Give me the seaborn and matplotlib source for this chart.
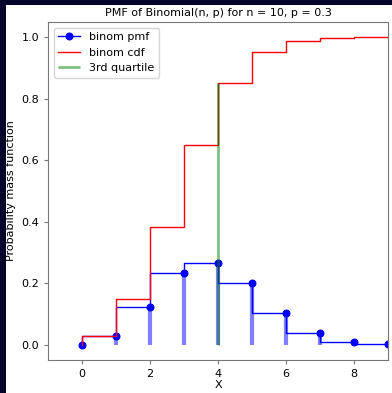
import numpy as np
import matplotlib
matplotlib.use("Agg")
import matplotlib.pyplot as plt
from matplotlib.patches import Rectangle
import seaborn as sns

# values
x_vals = [0, 1, 2, 3, 4, 5, 6, 7, 8, 9]
pmf_vals = [0.0, 0.028, 0.121, 0.233, 0.267, 0.200, 0.103, 0.037, 0.009, 0.0014]
cdf_vals = [0.0, 0.028, 0.149, 0.383, 0.650, 0.850, 0.953, 0.989, 0.998, 1.0]
q3_x = 4
q3_top = 0.85

fig = plt.figure(figsize=(3.92, 3.93), dpi=100, facecolor="#05052b")
# white page inside the dark frame
fig.add_artist(Rectangle((6 / 392, 0), 1, 1 - 5 / 393, transform=fig.transFigure,
                         facecolor="white", edgecolor="none", zorder=-10))
ax = fig.add_axes([48 / 392, 1 - 360 / 393, 340 / 392, 338 / 393])

ax.vlines(x_vals, 0, pmf_vals, colors="b", lw=3, alpha=0.5)
sns.lineplot(x=x_vals, y=pmf_vals, ax=ax, color="b", marker="o", markersize=5,
             markeredgecolor="b", lw=1, drawstyle="steps-pre", label="binom pmf")
sns.lineplot(x=x_vals, y=cdf_vals, ax=ax, color="r", lw=1,
             drawstyle="steps-pre", label="binom cdf")
ax.vlines(q3_x, 0, q3_top, colors="g", lw=2, alpha=0.5, label="3rd quartile")

ax.set_xlim(-1, 9)
ax.set_ylim(-0.05, 1.05)
ax.set_xticks([0, 2, 4, 6, 8])
ax.set_yticks([0.0, 0.2, 0.4, 0.6, 0.8, 1.0])
ax.tick_params(labelsize=8, length=3, color="#777777")
for s in ax.spines.values():
    s.set_color("#777777")
ax.set_title("PMF of Binomial(n, p) for n = 10, p = 0.3", fontsize=8, pad=4)
ax.set_xlabel("X", fontsize=8, labelpad=1)
ax.set_ylabel("Probability mass function", fontsize=8)
ax.legend(loc="upper left", fontsize=8)

fig.savefig("out.png", dpi=100, facecolor=fig.get_facecolor())
